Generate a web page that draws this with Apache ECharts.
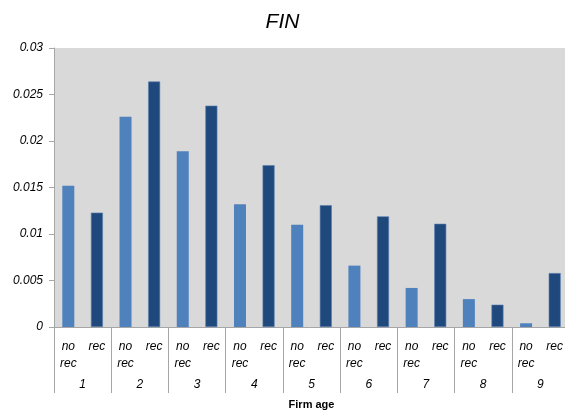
<!DOCTYPE html>
<html>
<head>
<meta charset="utf-8">
<script src="https://cdn.jsdelivr.net/npm/echarts@6/dist/echarts.min.js"></script>
<style>
  html, body { margin: 0; padding: 0; background: #fff; }
  #chart { width: 565px; height: 416px; }
</style>
</head>
<body>
<div id="chart"></div>
<script>
  // firm age groups, each split into no rec / rec
  var ages = ['1', '2', '3', '4', '5', '6', '7', '8', '9']
  var noRec = [0.0152, 0.0226, 0.0189, 0.0132, 0.0110, 0.0066, 0.0042, 0.0030, 0.0004]
  var rec = [0.0123, 0.0264, 0.0238, 0.0174, 0.0131, 0.0119, 0.0111, 0.0024, 0.0058]
  var yTicks = [0, 0.005, 0.01, 0.015, 0.02, 0.025, 0.03]

  var cats = []
  var lightData = []
  var darkData = []
  ages.forEach(function (a, i) {
    cats.push('no\nrec', 'rec')
    lightData.push(noRec[i], '-')
    darkData.push('-', rec[i])
  })

  var font = 'Liberation Sans, Arial, sans-serif'
  var chart = echarts.init(document.getElementById('chart'))
  var option = {
    animation: false,
    title: {
      text: 'FIN',
      left: 'center',
      top: 7,
      textStyle: { fontFamily: font, fontStyle: 'italic', fontWeight: 'normal', fontSize: 21, color: '#000' }
    },
    grid: {
      left: 54, top: 48, right: -4, bottom: 89,
      outerBoundsMode: 'none', containLabel: false,
      show: true, backgroundColor: '#d9d9d9', borderWidth: 0
    },
    xAxis: [
      {
        type: 'category',
        data: cats,
        position: 'bottom',
        axisLine: { show: true, lineStyle: { color: '#a6a6a6' } },
        axisTick: { show: false },
        axisLabel: {
          interval: 0, margin: 11, lineHeight: 17,
          fontFamily: font, fontStyle: 'italic', fontSize: 12, color: '#000'
        }
      },
      {
        type: 'category',
        data: ages,
        position: 'bottom',
        axisLine: { show: false },
        axisTick: { show: true, interval: 0, length: 66, lineStyle: { color: '#a6a6a6' } },
        axisLabel: { interval: 0, margin: 52, fontFamily: font, fontStyle: 'italic', fontSize: 12, color: '#000' },
        name: 'Firm age',
        nameLocation: 'middle',
        nameGap: 72,
        nameTextStyle: { fontFamily: font, fontWeight: 'bold', fontSize: 11, color: '#000' }
      }
    ],
    yAxis: {
      type: 'value',
      min: 0,
      max: 0.03,
      interval: 0.005,
      splitLine: { show: false },
      axisLine: { show: true, lineStyle: { color: '#a6a6a6' } },
      axisTick: { show: true, length: 5, lineStyle: { color: '#a6a6a6' } },
      axisLabel: {
        margin: 11, fontFamily: font, fontStyle: 'italic', fontSize: 12, color: '#000',
        formatter: function (v) {
          var t = yTicks.filter(function (y) { return Math.abs(y - v) < 1e-9 })
          return t.length ? String(t[0]) : ''
        }
      }
    },
    series: [
      { name: 'no rec', type: 'bar', data: lightData, barWidth: 12, barGap: '-100%', itemStyle: { color: '#4f81bd' } },
      { name: 'rec', type: 'bar', data: darkData, barWidth: 12, itemStyle: { color: '#1f497d', borderColor: '#5a7fae', borderWidth: 0.6 } }
    ]
  }
  chart.setOption(option)
</script>
</body>
</html>
